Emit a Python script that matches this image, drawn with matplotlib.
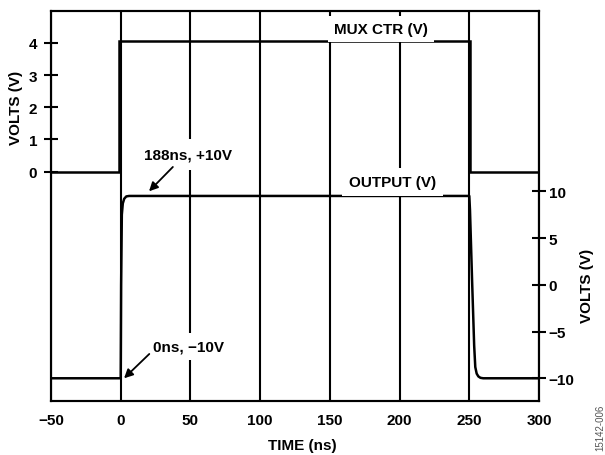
import matplotlib
matplotlib.use("Agg")
import matplotlib.pyplot as plt

plt.rcParams['font.family'] = ['Liberation Sans', 'DejaVu Sans']
plt.rcParams['font.weight'] = 'bold'

# MUX control voltage (left axis)
mux_t = [-50, -1.5, -1.5, 250.5, 250.5, 300]
mux_v = [0, 0, 4.05, 4.05, 0, 0]

# output voltage (right axis)
out_t = [-50, 0, 0.3, 0.8, 1.5, 2.5, 4, 6, 250, 250.5, 252, 253.5, 254.3, 255.3, 256.5, 258, 260, 300]
out_v = [-10, -10, 0, 7.5, 8.7, 9.2, 9.45, 9.5, 9.5, 8.0, 0.5, -6.5, -8.8, -9.5, -9.8, -9.95, -10, -10]

x_ticks = [-50, 0, 50, 100, 150, 200, 250, 300]
x_labels = ['\u221250', '0', '50', '100', '150', '200', '250', '300']
left_ticks = [0, 1, 2, 3, 4]
right_ticks = [-10, -5, 0, 5, 10]
right_labels = ['\u221210', '\u22125', '0', '5', '10']

fig = plt.figure(figsize=(6.05, 4.56), dpi=100)
ax = fig.add_axes([51 / 605, 54 / 456, 488 / 605, 390 / 456])
ax2 = ax.twinx()

lw = 1.5
fs = 11
ax.plot(mux_t, mux_v, color='black', lw=lw + 0.3, solid_joinstyle='miter')
ax2.plot(out_t, out_v, color='black', lw=lw + 0.3)

ax.set_xlim(-50, 300)
ax.set_ylim(-7.13, 4.99)
ax2.set_ylim(-12.43, 29.28)

ax.set_xticks(x_ticks)
ax.set_xticklabels(x_labels)
ax.set_yticks(left_ticks)
ax2.set_yticks(right_ticks)
ax2.set_yticklabels(right_labels)

ax.grid(axis='x', color='black', lw=lw)
ax.tick_params(axis='x', length=0, pad=9, labelsize=fs)
ax.tick_params(axis='y', direction='inout', length=10, width=lw, pad=5, labelsize=fs)
ax2.tick_params(axis='y', direction='inout', length=10, width=lw, pad=2, labelsize=fs)

for a in (ax, ax2):
    for s in a.spines.values():
        s.set_linewidth(lw)

ax.set_xlabel('TIME (ns)', fontsize=fs, fontweight='bold')
ax.xaxis.set_label_coords(0.516, -0.095)
ax.set_ylabel('VOLTS (V)', fontsize=fs, fontweight='bold')
ax.yaxis.set_label_coords(-0.057, 0.754)
ax2.set_ylabel('VOLTS (V)', fontsize=fs, fontweight='bold')
ax2.yaxis.set_label_coords(1.084, 0.297)

ax.text(153, 4.44, 'MUX CTR (V)', fontsize=fs, fontweight='bold', va='center', ha='left',
        bbox=dict(boxstyle='square,pad=0.4', fc='white', ec='none'))
ax2.text(195, 11.0, 'OUTPUT (V)', fontsize=fs, fontweight='bold', va='center', ha='center',
         bbox=dict(boxstyle='square,pad=0.45', fc='white', ec='none'))
ax2.text(17, 13.9, '188ns, +10V', fontsize=fs, fontweight='bold', va='center', ha='left',
         bbox=dict(boxstyle='square,pad=0.55', fc='white', ec='none'))
ax2.text(23, -6.6, '0ns, \u221210V', fontsize=fs, fontweight='bold', va='center', ha='left',
         bbox=dict(boxstyle='square,pad=0.4', fc='white', ec='none'))

arrow = dict(arrowstyle='-|>', color='black', lw=1.3, mutation_scale=13, shrinkA=0, shrinkB=0)
ax2.annotate('', xy=(20.3, 10.0), xytext=(37.4, 12.6), arrowprops=arrow)
ax2.annotate('', xy=(2.4, -10.0), xytext=(20.5, -7.4), arrowprops=arrow)

fig.text(600 / 605, 1 - 428 / 456, '15142-006', rotation=90, fontsize=7,
         fontweight='normal', color='#555555', ha='center', va='center')

fig.savefig('out.png', dpi=100)
